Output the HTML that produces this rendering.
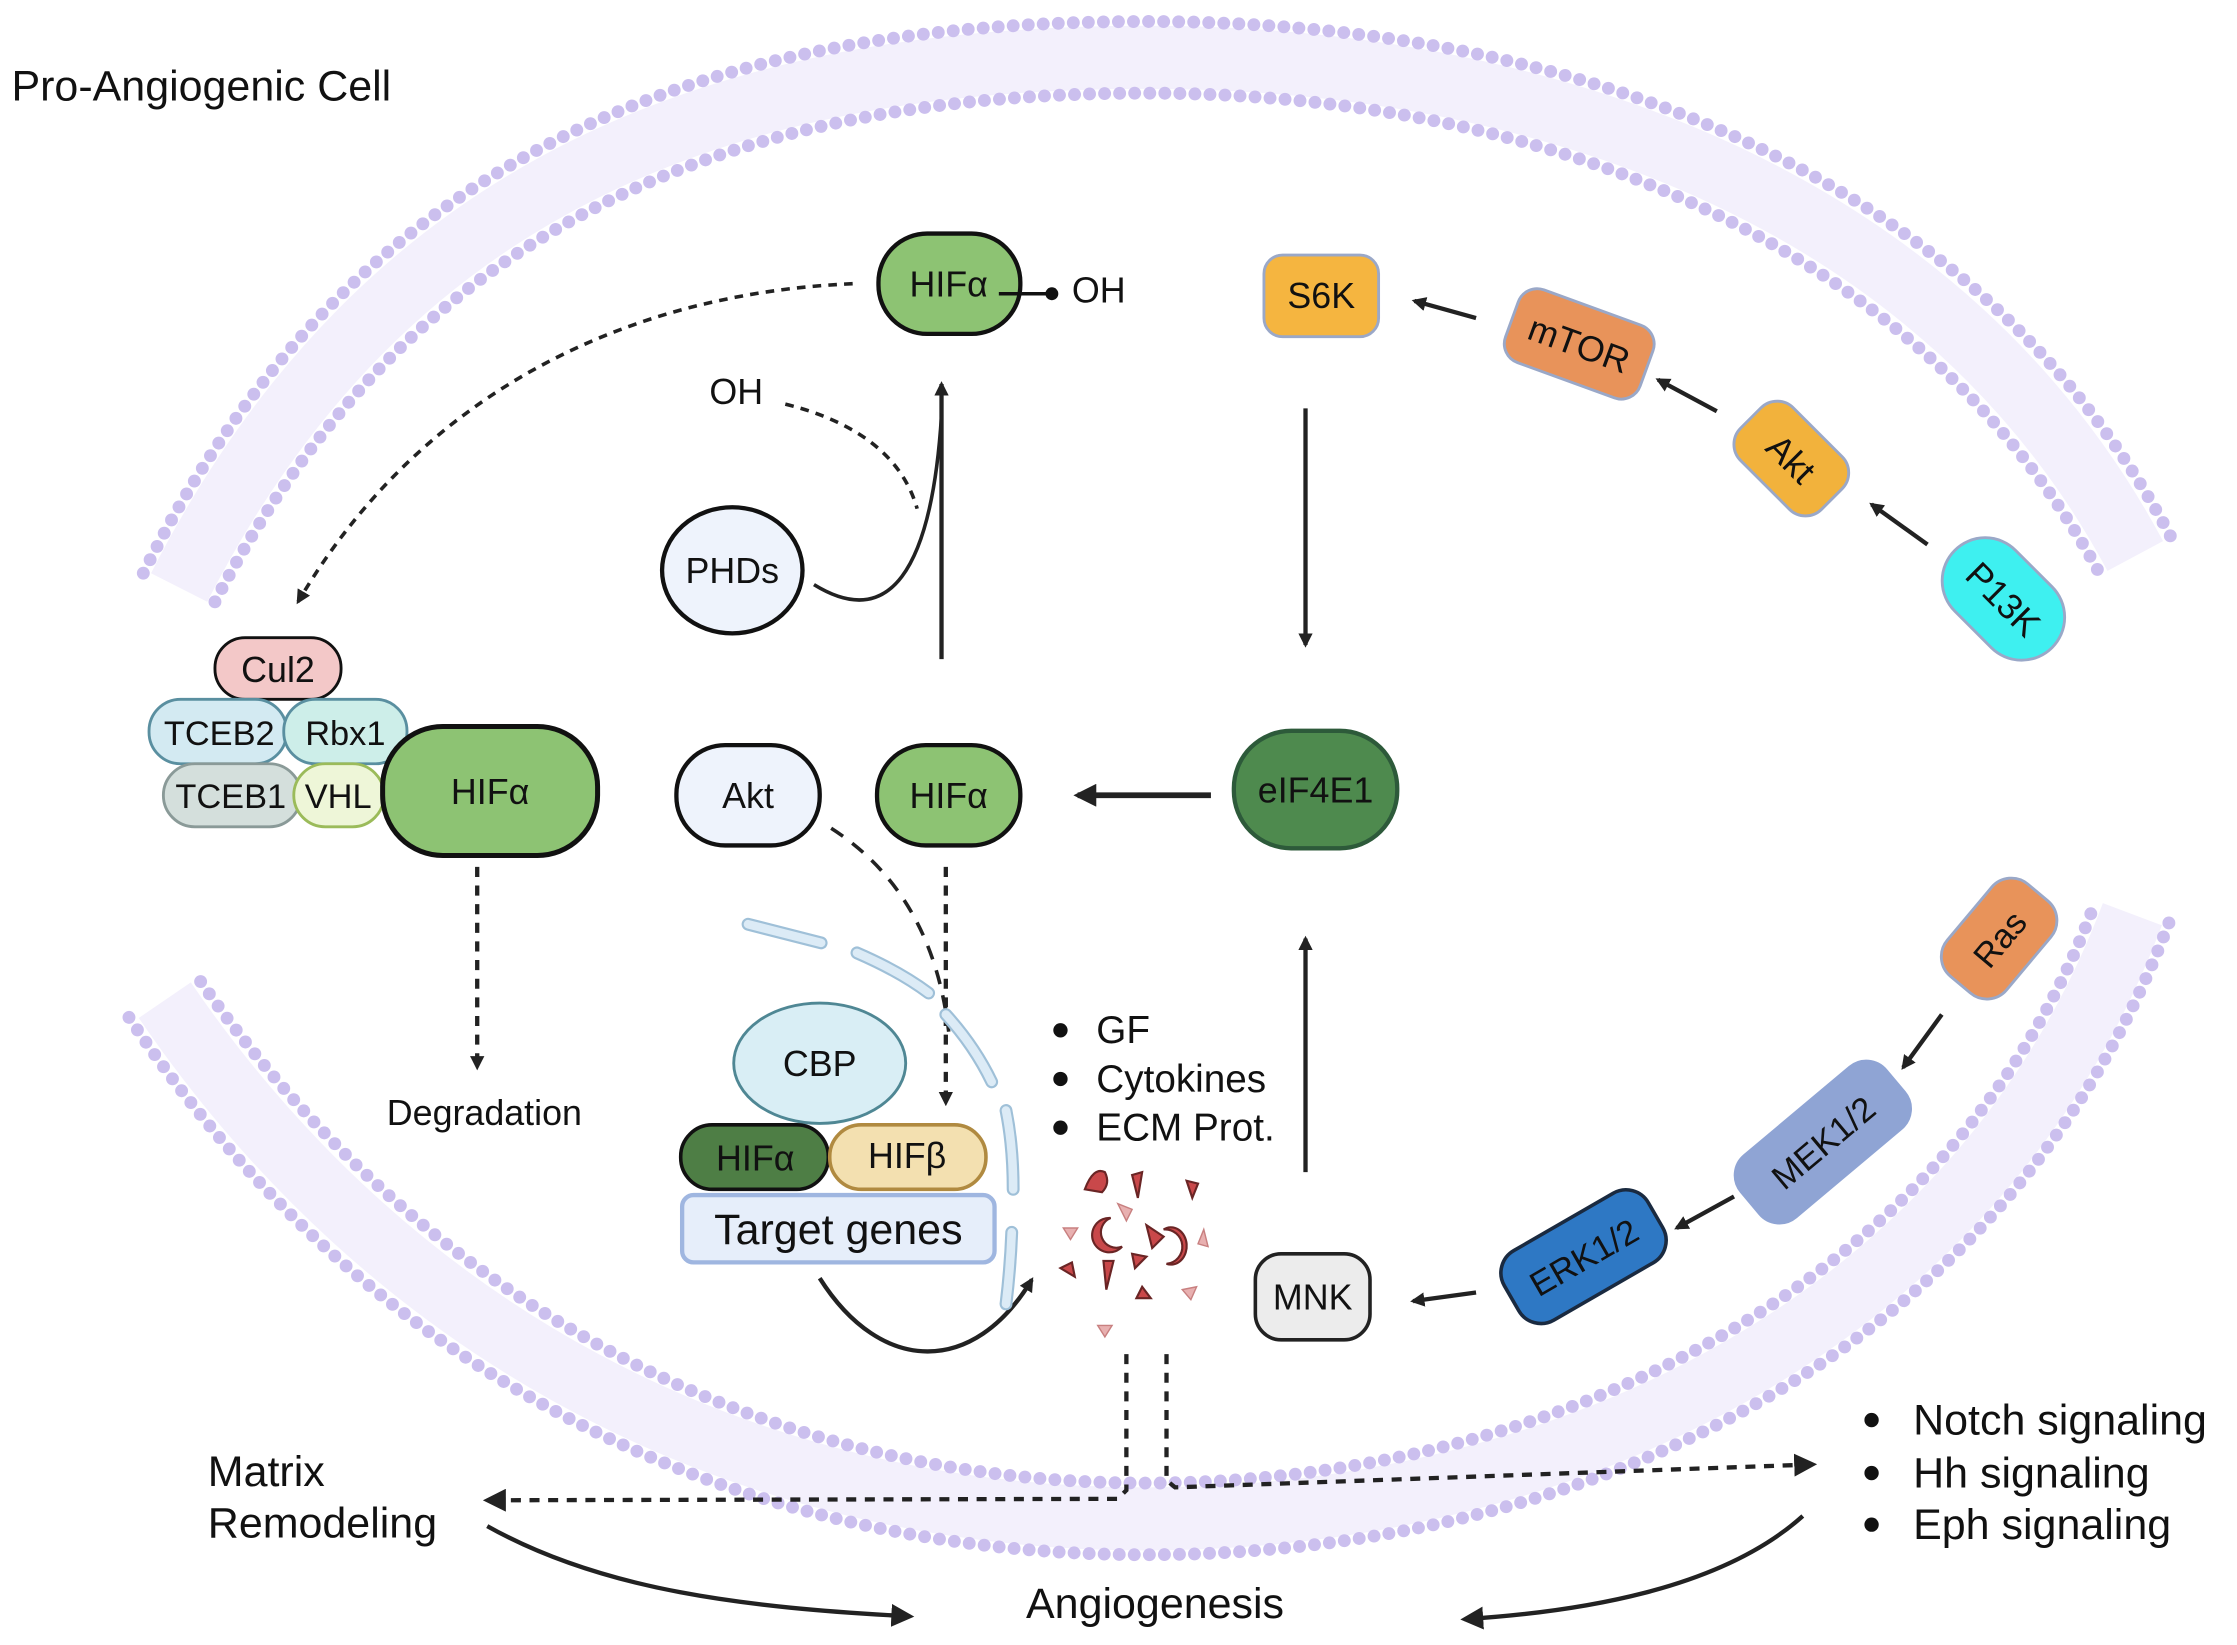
<!DOCTYPE html>
<html><head><meta charset="utf-8"><style>
html,body{margin:0;padding:0;background:#fff;}
svg{display:block;}
text{font-family:"Liberation Sans","DejaVu Sans",sans-serif;fill:#111;}
</style></head><body>
<svg width="2237" height="1645" viewBox="0 0 1561 1148" preserveAspectRatio="none" xmlns="http://www.w3.org/2000/svg">
<defs>
<marker id="ah" markerWidth="10" markerHeight="10" refX="8" refY="5" orient="auto" markerUnits="userSpaceOnUse" viewBox="0 0 10 10"><path d="M0,0 L10,5 L0,10 z" fill="#222"/></marker>
<marker id="ahb" markerWidth="16" markerHeight="16" refX="13" refY="8" orient="auto" markerUnits="userSpaceOnUse" viewBox="0 0 16 16"><path d="M0,0 L16,8 L0,16 z" fill="#222"/></marker>
</defs>
<rect width="1561" height="1148" fill="#fff"/>
<!-- membranes -->
<g fill="none">
<path d="M125,410 C 270,125 510,40 800,40 C 1090,40 1360,145 1490,388" stroke="#f3f0fc" stroke-width="44"/>
<path d="M100,400 C 250,100 500,15 800,15 C 1100,15 1380,120 1515,375" stroke="#cbbfee" stroke-width="9" stroke-dasharray="0 10.5" stroke-linecap="round"/>
<path d="M150,420 C 290,150 520,65 800,65 C 1080,65 1340,170 1465,400" stroke="#cbbfee" stroke-width="9" stroke-dasharray="0 10.5" stroke-linecap="round"/>
<path d="M115,698 C 270,925 510,1060 800,1060 C 1090,1060 1380,925 1488,638" stroke="#f3f0fc" stroke-width="44"/>
<path d="M90,710 C 250,950 500,1085 800,1085 C 1100,1085 1400,950 1515,640" stroke="#cbbfee" stroke-width="9" stroke-dasharray="0 10.5" stroke-linecap="round"/>
<path d="M140,685 C 290,900 520,1035 800,1035 C 1080,1035 1360,900 1460,635" stroke="#cbbfee" stroke-width="9" stroke-dasharray="0 10.5" stroke-linecap="round"/>
</g>
<text x="8" y="70" font-size="30">Pro-Angiogenic Cell</text>

<!-- top HIF -->
<rect x="613" y="163" width="99" height="70" rx="34" fill="#8dc373" stroke="#111" stroke-width="3"/>
<text x="662" y="207" font-size="25" text-anchor="middle">HIFα</text>
<line x1="697" y1="205" x2="733" y2="205" stroke="#111" stroke-width="2.5"/>
<circle cx="734" cy="205" r="4.5" fill="#111"/>
<text x="748" y="211" font-size="25">OH</text>

<!-- S6K / mTOR / Akt / P13K -->
<rect x="882" y="178" width="80" height="57" rx="13" fill="#f5b540" stroke="#9aa8c8" stroke-width="2"/>
<text x="922" y="215" font-size="25" text-anchor="middle">S6K</text>
<g transform="translate(1102,240) rotate(20)"><rect x="-50" y="-27" width="100" height="54" rx="14" fill="#e8935a" stroke="#9aa8c8" stroke-width="2"/><text x="0" y="9" font-size="25" text-anchor="middle">mTOR</text></g>
<g transform="translate(1250,320) rotate(45)"><rect x="-40" y="-26" width="80" height="52" rx="16" fill="#f2b23c" stroke="#9aa8c8" stroke-width="2"/><text x="0" y="9" font-size="25" text-anchor="middle">Akt</text></g>
<g transform="translate(1398,418) rotate(45)"><rect x="-48" y="-30" width="96" height="60" rx="30" fill="#3ef0f0" stroke="#9aa8c8" stroke-width="2"/><text x="0" y="9" font-size="25" text-anchor="middle">P13K</text></g>
<g stroke="#222" stroke-width="3" fill="none" marker-end="url(#ah)">
<line x1="1030" y1="222" x2="987" y2="210"/>
<line x1="1198" y1="287" x2="1157" y2="265"/>
<line x1="1345" y1="380" x2="1306" y2="352"/>
<line x1="911" y1="285" x2="911" y2="450"/>
<line x1="911" y1="818" x2="911" y2="655"/>
<line x1="657" y1="460" x2="657" y2="268"/>
<line x1="1355" y1="708" x2="1328" y2="745"/>
<line x1="1210" y1="835" x2="1170" y2="857"/>
<line x1="1030" y1="902" x2="986" y2="908"/>
<path d="M572,892 C 615,960 680,960 720,893"/>
<path d="M340,1065 C 420,1110 520,1122 635,1128" marker-end="url(#ahb)"/>
<path d="M1258,1058 C 1200,1110 1100,1125 1022,1130" marker-end="url(#ahb)"/>
</g>
<line x1="845" y1="555" x2="752" y2="555" stroke="#222" stroke-width="4" marker-end="url(#ahb)"/>
<!-- PHDs -->
<text x="495" y="282" font-size="25">OH</text>
<path d="M548,282 C 600,295 630,320 640,355" fill="none" stroke="#222" stroke-width="2.5" stroke-dasharray="6 5"/>
<ellipse cx="511" cy="398" rx="49" ry="44" fill="#eef3fc" stroke="#111" stroke-width="3"/>
<text x="511" y="407" font-size="25" text-anchor="middle">PHDs</text>
<path d="M568,408 C 620,440 650,400 657,290" fill="none" stroke="#222" stroke-width="2.5"/>
<path d="M595,198 C 430,205 290,280 208,420" fill="none" stroke="#222" stroke-width="2.5" stroke-dasharray="6 5" marker-end="url(#ah)"/>

<!-- complex -->
<rect x="150" y="445" width="88" height="43" rx="21" fill="#f3c8c8" stroke="#111" stroke-width="2"/>
<text x="194" y="476" font-size="25" text-anchor="middle">Cul2</text>
<rect x="104" y="488" width="96" height="45" rx="22" fill="#d3eaf2" stroke="#5a8fa0" stroke-width="2"/>
<text x="153" y="520" font-size="24" text-anchor="middle">TCEB2</text>
<rect x="198" y="488" width="86" height="45" rx="22" fill="#cdeee9" stroke="#5a8fa0" stroke-width="2"/>
<text x="241" y="520" font-size="24" text-anchor="middle">Rbx1</text>
<rect x="114" y="533" width="96" height="44" rx="22" fill="#d4dfdc" stroke="#8a9a98" stroke-width="2"/>
<text x="161" y="564" font-size="24" text-anchor="middle">TCEB1</text>
<rect x="205" y="533" width="63" height="44" rx="22" fill="#eef6d8" stroke="#9bbb5a" stroke-width="2"/>
<text x="236" y="564" font-size="24" text-anchor="middle">VHL</text>
<rect x="267" y="507" width="150" height="90" rx="42" fill="#8dc373" stroke="#111" stroke-width="3.5"/>
<text x="342" y="561" font-size="25" text-anchor="middle">HIFα</text>
<line x1="333" y1="605" x2="333" y2="745" stroke="#222" stroke-width="3" stroke-dasharray="7 6" marker-end="url(#ah)"/>
<text x="338" y="785" font-size="25" text-anchor="middle">Degradation</text>

<!-- middle -->
<rect x="472" y="520" width="100" height="70" rx="34" fill="#eef3fc" stroke="#111" stroke-width="3"/>
<text x="522" y="564" font-size="25" text-anchor="middle">Akt</text>
<rect x="612" y="520" width="100" height="70" rx="34" fill="#8dc373" stroke="#111" stroke-width="3"/>
<text x="662" y="564" font-size="25" text-anchor="middle">HIFα</text>
<rect x="861" y="510" width="114" height="82" rx="40" fill="#4e8a4e" stroke="#2d5a3a" stroke-width="3"/>
<text x="918" y="560" font-size="25" text-anchor="middle">eIF4E1</text>
<path d="M580,578 C 630,610 655,660 662,720" fill="none" stroke="#222" stroke-width="2.5" stroke-dasharray="10 8"/>
<line x1="660" y1="605" x2="660" y2="770" stroke="#222" stroke-width="3" stroke-dasharray="7 6" marker-end="url(#ah)"/>
<!-- nuclear envelope -->
<g fill="none" stroke-linecap="round">
<g stroke="#9fc0d8" stroke-width="9">
<path d="M522,645 L573,658"/><path d="M598,665 Q628,678 648,693"/><path d="M660,708 Q680,730 692,755"/><path d="M702,775 Q707,800 707,830"/><path d="M706,860 Q705,885 702,910"/>
</g>
<g stroke="#dcebf6" stroke-width="6">
<path d="M522,645 L573,658"/><path d="M598,665 Q628,678 648,693"/><path d="M660,708 Q680,730 692,755"/><path d="M702,775 Q707,800 707,830"/><path d="M706,860 Q705,885 702,910"/>
</g>
</g>
<ellipse cx="572" cy="742" rx="60" ry="42" fill="#d9eef5" stroke="#4f8794" stroke-width="2"/>
<text x="572" y="751" font-size="25" text-anchor="middle">CBP</text>
<rect x="475" y="785" width="103" height="45" rx="22" fill="#4e7e45" stroke="#111" stroke-width="2.5"/>
<text x="527" y="817" font-size="25" text-anchor="middle">HIFα</text>
<rect x="579" y="785" width="109" height="45" rx="22" fill="#f3e0b0" stroke="#b08a40" stroke-width="2.5"/>
<text x="633" y="815" font-size="25" text-anchor="middle">HIFβ</text>
<rect x="476" y="834" width="218" height="47" rx="8" fill="#e6eefa" stroke="#9fb6e0" stroke-width="3"/>
<text x="585" y="868" font-size="30" text-anchor="middle">Target genes</text>
<g font-size="27">
<circle cx="740" cy="719" r="5" fill="#111"/><text x="765" y="728">GF</text>
<circle cx="740" cy="753" r="5" fill="#111"/><text x="765" y="762">Cytokines</text>
<circle cx="740" cy="787" r="5" fill="#111"/><text x="765" y="796">ECM Prot.</text>
</g>
<!-- particles -->
<g fill="#c9484a" stroke="#6a2525" stroke-width="1.5">
<path d="M757,830 q6,-16 14,-12 q4,8 -2,14 z"/><path d="M790,820 l7,-2 l-3,18 z"/><path d="M828,824 l8,2 l-4,10 z"/>
<path d="M775,850 a12,12 0 1 0 8,20 a7,7 0 1 1 -8,-20 z"/><path d="M800,855 l12,8 l-8,8 z"/>
<path d="M812,858 a11,13 0 1 1 2,24 a7,7 0 0 0 -2,-24 z"/><path d="M790,875 l10,2 l-8,8 z"/>
<path d="M740,885 l8,-4 l2,10 z"/><path d="M770,880 l7,0 l-5,20 z"/><path d="M797,898 l6,8 l-10,0 z"/>
</g>
<g fill="#e8b0b0" stroke="#c88080" stroke-width="1">
<path d="M780,840 l10,4 l-4,8 z"/><path d="M742,857 l10,0 l-5,8 z"/><path d="M840,858 l3,12 l-7,-2 z"/><path d="M825,900 l10,-2 l-4,9 z"/><path d="M766,925 l10,0 l-5,8 z"/>
</g>
<!-- MAPK -->
<rect x="876" y="875" width="80" height="60" rx="18" fill="#ececec" stroke="#222" stroke-width="2.5"/>
<text x="916" y="914" font-size="25" text-anchor="middle">MNK</text>
<g transform="translate(1395,655) rotate(-50)"><rect x="-42" y="-27" width="84" height="54" rx="18" fill="#e8935a" stroke="#9aa8c8" stroke-width="2"/><text x="0" y="9" font-size="24" text-anchor="middle">Ras</text></g>
<g transform="translate(1272,797) rotate(-40)"><rect x="-66" y="-28" width="132" height="56" rx="18" fill="#8fa4d4" stroke="#8fa4d4" stroke-width="2"/><text x="0" y="9" font-size="24" text-anchor="middle">MEK1/2</text></g>
<g transform="translate(1105,877) rotate(-30)"><rect x="-58" y="-28" width="116" height="56" rx="18" fill="#2e78c4" stroke="#1a2a40" stroke-width="2.5"/><text x="0" y="9" font-size="24" text-anchor="middle">ERK1/2</text></g>
<!-- bottom dashed -->
<path d="M786,945 L786,1040 L780,1046 L340,1047" fill="none" stroke="#222" stroke-width="3" stroke-dasharray="7 6" marker-end="url(#ahb)"/>
<path d="M814,945 L814,1033 L820,1038 L1265,1022" fill="none" stroke="#222" stroke-width="3" stroke-dasharray="7 6" marker-end="url(#ahb)"/>
<g font-size="30">
<text x="145" y="1037">Matrix</text><text x="145" y="1073">Remodeling</text>
<circle cx="1306" cy="991" r="5" fill="#111"/><text x="1335" y="1001">Notch signaling</text>
<circle cx="1306" cy="1028" r="5" fill="#111"/><text x="1335" y="1038">Hh signaling</text>
<circle cx="1306" cy="1064" r="5" fill="#111"/><text x="1335" y="1074">Eph signaling</text>
<text x="806" y="1129" text-anchor="middle">Angiogenesis</text>
</g>
</svg>
</body></html>
